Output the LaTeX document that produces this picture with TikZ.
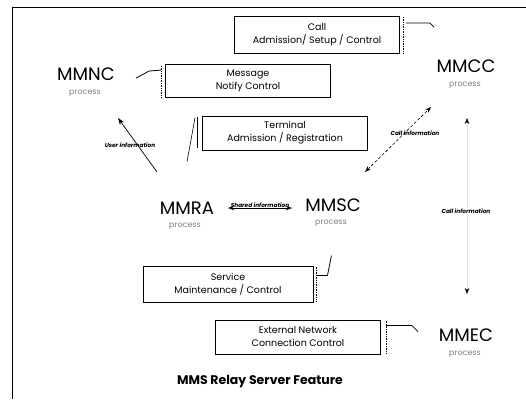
\documentclass[tikz,border=0pt]{standalone}
\usepackage{fontspec}
\setmainfont{Poppins}
\usetikzlibrary{arrows.meta, positioning, calc}

\tikzset{
	proc/.style = {font=\fontsize{18}{18}\selectfont, inner sep=0pt},
	proclabel/.style = {font=\fontsize{8}{8}\selectfont, text=black!50, inner sep=0pt},
	funcbox/.style = {draw, line width=0.9pt, minimum width=165pt, minimum height=34pt,
		align=center, font=\fontsize{9.5}{13}\selectfont},
	infolabel/.style = {font=\fontsize{5.8}{6}\selectfont\bfseries\itshape, inner sep=0.5pt},
	flow/.style = {{Stealth[length=6pt,width=4.5pt]}-{Stealth[length=6pt,width=4.5pt]}, line width=0.6pt},
	bracket/.style = {line width=0.7pt, densely dotted},
	tie/.style = {line width=0.8pt},
}

\begin{document}
\begin{tikzpicture}[x=1pt, y=-1pt]
	\useasboundingbox (0,0) rectangle (526,399);
	% frame
	\draw[line width=1pt] (12,399) -- (12,7) -- (526,7);

	% processes
	\node[proc] (mmnc) at (86,74) {MMNC};
	\node[proclabel] (mmnc-p) at (85,93) {process};
	\node[proc] (mmcc) at (466,66) {MMCC};
	\node[proclabel] (mmcc-p) at (465,85) {process};
	\node[proc] (mmra) at (187,208) {MMRA};
	\node[proclabel] (mmra-p) at (185,226) {process};
	\node[proc] (mmsc) at (333,205) {MMSC};
	\node[proclabel] (mmsc-p) at (331,223) {process};
	\node[proc] (mmec) at (466,335) {MMEC};
	\node[proclabel] (mmec-p) at (465,354) {process};

	% functions
	\node[funcbox, minimum height=37pt] (call) at (317,35) {Call\\Admission/ Setup / Control};
	\node[funcbox, minimum height=33pt] (msg) at (248,81) {Message\\Notify Control};
	\node[funcbox] (term) at (285,133) {Terminal\\Admission / Registration};
	\node[funcbox, minimum width=170pt, minimum height=36pt] (serv) at (228,284) {Service\\Maintenance / Control};
	\node[funcbox] (ext) at (298,337) {External Network\\Connection Control};

	% brackets and ties
	\draw[bracket] ($(call.north east)+(3,1)$) -- ($(call.south east)+(3,-1)$);
	\draw[tie] ($(call.north east)+(6,7)$) -- ++(24,0) -- ++(4,4);
	\draw[bracket] ($(msg.north west)+(-4,2)$) -- ($(msg.south west)+(-4,-1)$);
	\draw[tie] ($(msg.north west)+(-4,6)$) -- ++(-12,1) -- ++(-13,7);
	\draw[line width=1pt] ($(term.north west)+(-5,1)$) -- ($(term.south west)+(-5,-2)$);
	\draw[line width=0.6pt] ($(term.north west)+(-7,2)$) -- ($(term.north west)+(-15,46)$);
	\draw[bracket] ($(serv.north east)+(3,1)$) -- ($(serv.south east)+(3,-1)$);
	\draw[tie] ($(serv.north east)+(3,10)$) -- ++(11,0) -- ++(4,-20);
	\draw[bracket] ($(ext.north east)+(5,1)$) -- ($(ext.south east)+(5,-1)$);
	\draw[tie] ($(ext.north east)+(5,6)$) -- ++(26,0) -- ++(6,6);

	% information flows
	\coordinate (ui-a) at (157,172);
	\coordinate (ui-b) at (118,118);
	\draw[-{Stealth[length=7pt,width=5pt]}, line width=0.7pt] (ui-a) -- (ui-b);
	\node[infolabel] (ui) at (130,145) {User information};

	\coordinate (si-a) at (228,208);
	\coordinate (si-b) at (292,208);
	\draw[flow] (si-a) -- (si-b) node[infolabel, midway, above=0pt] (si) {Shared information};

	\coordinate (ci-a) at (365,172);
	\coordinate (ci-b) at (431,107);
	\draw[flow, densely dashed] (ci-a) -- (ci-b);
	\node[infolabel] (ci) at (415,133) {Call information};

	\coordinate (cv-a) at (467,118);
	\coordinate (cv-b) at (467,294);
	\draw[{Stealth[length=6pt,width=4.5pt,black]}-{Stealth[length=6pt,width=4.5pt,black]}, draw=black!12, line width=0.5pt] (cv-a) -- (cv-b);
	\node[infolabel, fill=white] (cv) at (466,211) {Call information};

	% title
	\node[font=\fontsize{12.5}{14}\selectfont\bfseries] (title) at (260,382) {MMS Relay Server Feature};
\end{tikzpicture}
\end{document}
